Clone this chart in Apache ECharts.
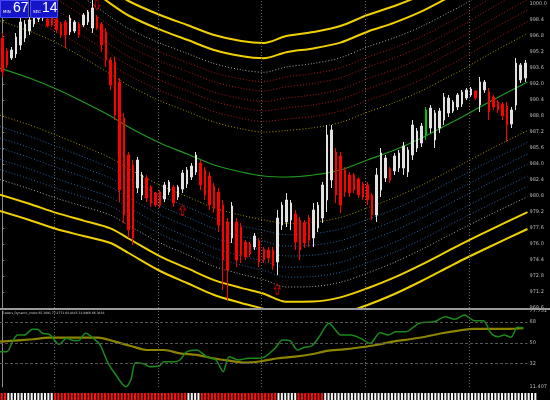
<!DOCTYPE html>
<html><head><meta charset="utf-8">
<script src="https://cdn.jsdelivr.net/npm/echarts@6/dist/echarts.min.js"></script>
<style>html,body{margin:0;padding:0;background:#000;}#c{width:550px;height:400px;}</style>
</head><body><div id="c"></div>
<script>
// ---------- candle data (price) ----------
const opens=[996.6,995.3,994.6,995.0,995.9,996.6,997.3,998.0,998.5,998.6,
998.5,998.9,998.5,998.0,998.2,997.2,997.3,998.0,997.9,998.2,
997.6,998.7,998.0,997.2,994.4,994.2,992.2,988.6,984.9,983.9,
981.6,980.9,982.6,981.7,981.1,981.2,980.5,981.2,981.7,980.7,
981.5,982.0,982.7,983.2,984.1,983.4,982.8,981.8,981.2,979.9,
978.2,976.6,978.2,977.7,976.2,976.0,975.7,976.3,975.5,975.4,
975.4,974.2,977.9,978.2,978.4,979.0,978.4,978.1,978.6,976.6,
977.6,978.6,980.4,982.4,985.2,984.8,983.4,982.9,982.9,982.5,
982.0,981.9,980.9,978.9,981.4,982.6,983.5,983.3,983.6,983.6,
983.2,984.9,985.6,986.1,986.9,987.6,986.4,987.6,988.4,989.1,
989.3,989.7,990.0,990.6,990.9,991.3,989.9,991.4,991.2,990.7,
990.2,990.0,989.8,988.0,989.9,992.4,992.6];
const closes=[993.2,993.9,995.4,996.7,998.2,998.0,998.4,998.9,999.4,999.6,
997.8,997.9,997.4,996.9,996.9,998.6,998.2,996.9,998.9,999.2,
999.6,997.6,995.9,994.4,991.9,988.9,981.4,978.9,977.4,976.6,
984.4,982.9,980.6,980.1,979.9,979.9,981.9,982.2,980.1,981.7,
983.1,983.4,983.8,984.9,981.9,980.9,979.9,979.6,977.9,974.4,
973.4,979.8,974.4,974.9,974.7,975.0,976.8,974.2,974.4,974.6,
973.8,978.6,979.9,980.4,980.1,976.2,975.4,976.1,976.4,979.4,
979.9,981.9,986.9,987.4,980.9,979.9,981.2,981.1,981.4,980.9,
980.7,980.4,978.9,982.9,985.1,984.6,982.4,984.8,985.1,985.8,
985.4,987.9,987.3,987.8,989.4,989.6,989.1,989.3,990.7,990.6,
990.2,990.9,991.2,991.4,991.5,990.6,992.2,992.2,989.2,989.7,
989.4,988.8,987.9,989.4,994.1,993.9,994.1];
const lows=[992.7,993.6,994.4,994.6,995.4,996.2,996.9,997.7,998.2,998.3,
997.7,997.7,997.1,996.6,995.6,996.9,997.1,996.6,997.7,997.9,
997.1,997.4,995.2,993.7,991.4,988.4,980.2,978.1,976.6,975.9,
981.1,980.4,980.2,979.7,979.7,979.6,980.2,980.9,979.7,980.4,
981.1,981.6,982.4,982.9,981.4,980.4,979.4,979.1,977.2,971.4,
970.4,976.1,973.7,974.1,974.4,974.7,975.4,973.7,974.1,974.1,
973.4,972.9,977.4,977.7,977.4,975.4,974.4,975.6,975.7,975.7,
977.2,978.1,979.2,981.6,980.1,979.1,980.7,980.7,981.1,980.6,
980.4,979.9,978.4,978.2,980.7,982.2,982.1,982.9,983.2,982.9,
982.7,984.4,985.2,985.7,986.4,987.1,985.6,987.1,987.9,988.7,
989.1,989.4,989.7,990.4,990.7,990.4,989.2,991.1,988.4,989.4,
989.1,988.4,986.2,987.6,989.4,992.1,992.2];
const highs=[997.1,995.6,995.7,997.1,998.6,998.4,998.7,999.1,999.6,999.9,
998.6,999.2,998.7,998.2,998.4,998.9,998.4,998.2,999.1,999.4,
1000.4,998.9,998.2,997.6,994.7,994.7,992.6,989.1,985.2,984.4,
984.7,983.2,982.9,981.9,981.2,981.4,982.2,982.4,981.9,981.9,
983.4,983.7,984.1,985.2,984.4,983.7,983.2,982.1,981.6,980.4,
978.6,980.2,978.6,978.1,976.4,976.2,977.1,976.6,975.7,975.7,
975.7,979.4,980.2,981.1,980.4,979.4,978.7,978.4,978.9,980.1,
980.2,982.2,987.9,987.9,985.6,985.2,983.7,983.2,983.1,982.7,
982.2,982.2,981.1,983.6,985.6,984.9,983.7,985.1,985.4,986.2,
985.7,988.4,987.6,988.1,989.7,989.9,989.4,989.6,991.1,990.9,
990.4,991.1,991.4,991.6,991.7,991.4,992.7,992.4,991.6,990.9,
990.4,990.2,990.2,989.7,994.6,994.1,994.4];
const greenCandle = 94;
const categories = opens.map((_, i) => String(i + 1));

// ---------- channel (bands) ----------
const bandIdx  = [-0.5,6,12,18,24,28,35,41,47,53,58,63,69,75,81,87,93,99,102,108,116.5];
const bandMid  = [993.6,992.6,991.5,990.2,988.8,987.7,986.1,985.0,983.9,983.2,982.8,982.7,982.9,983.4,984.4,985.4,986.6,988.0,988.7,990.2,992.2];
const bandHalf = [14.3,14.2,14.0,13.4,12.7,12.6,12.8,12.9,13.0,13.1,13.3,14.1,14.3,14.4,14.5,14.4,14.3,14.3,14.3,14.5,14.7];
const bandLevels = [1.0,0.885,0.78,0.71,0.64,0.56,0.49,0.41,0.33];

// ---------- signal arrows ----------
const arrowDownIdx = [21], arrowDownPrice = [999.9];
const arrowUpIdx = [40, 61], arrowUpPrice = [979.4, 971.5];

// ---------- session separators ----------
const sessionBreaks = [11.5, 34.5, 57.5, 80.5, 103.5];

// ---------- Traders Dynamic Index ----------
const tdiGreenIdx=[-0.5,1.0,2.3,3.4,4.9,6.7,7.8,8.9,10.4,11.0,12.6,14.3,15.8,16.9,18.5,20.6,21.7,23.5,25.2,27.4,28.5,29.6,31.5,32.8,34.8,35.9,38.1,39.4,40.9,43.1,45.3,47.4,49.0,50.3,52.4,54.6,56.8,58.3,60.5,62.2,63.8,65.5,67.0,68.6,70.3,72.5,73.6,75.1,77.3,79.5,81.6,83.8,85.6,87.3,89.5,92.5,96.0,98.2,100.4,102.5,104.7,106.7,108.4,110.0,111.3,112.8,114.3,115.6];
const tdiGreenVal=[42.2,42.2,51.0,56.8,56.8,61.8,61.8,58.3,57.4,55.3,48.7,53.9,51.9,51.9,58.3,52.5,48.1,32.1,21.9,11.7,17.5,32.6,31.5,29.1,29.7,33.5,33.5,35.0,42.0,43.7,37.9,35.0,24.8,37.9,35.0,36.5,36.5,37.9,45.2,52.5,51.9,43.7,46.1,47.2,55.3,67.1,62.7,56.8,56.8,53.9,49.6,58.8,56.8,59.7,59.7,67.1,68.5,72.8,70.5,74.3,69.3,69.3,58.3,55.3,56.8,54.8,63.6,62.7];
const tdiBaseIdx=[-0.5,6.7,10.4,14.1,17.6,21.3,25.0,28.5,32.2,35.9,39.4,43.1,46.8,50.3,54.0,57.7,61.2,64.9,68.6,72.0,75.8,79.5,82.9,86.6,90.3,93.8,97.5,101.2,104.7,108.4,112.1,115.6];
const tdiBaseVal=[51.0,53.1,54.5,54.5,54.5,54.5,51.0,47.2,43.7,43.7,40.8,39.4,36.5,34.4,32.6,34.1,36.5,37.9,40.0,42.9,44.3,46.1,48.1,51.0,53.1,55.3,58.3,60.6,62.1,62.1,62.1,62.7];
const tdiLevels=[32,50,68];
const tdiRange=[11.407,77.751];
const tdiTitle='Traders_Dynamic_Index 65.3091 77.2771 64.8445 32.0966 66.3838';

// ---------- bottom strip ----------
const stripRuns=[['R',2],['W',14],['R',40],['W',4],['R',23],['W',6],['R',8],['W',64]];

// ---------- timer box ----------
const boxLabels=['MIN','SEC'];
const boxValues=['67','14'];

// ===== build =====
const upColors  = ['#f0d000','#f0d000','#a8a8a8','#b01818','#b01818','#b01818','#b01818','#b01818','#a89400'];
const lowColors = ['#f0d000','#f0d000','#a8a8a8','#2a64a8','#2a64a8','#2a64a8','#2a64a8','#2a64a8','#a89400'];
const series=[];
[1,-1].forEach(sign=>{
  bandLevels.forEach((f,k)=>{
    const solid=k<2;
    series.push({
      type:'line', xAxisIndex:1, yAxisIndex:0, smooth:0.3, symbol:'none', silent:true,
      data: bandIdx.map((x,j)=>[x, +(bandMid[j]+sign*f*bandHalf[j]).toFixed(2)]),
      lineStyle:{color: sign>0?upColors[k]:lowColors[k], width: solid?2:1, type: solid?'solid':[1,2]},
      z:2
    });
  });
});
series.push({
  type:'line', xAxisIndex:1, yAxisIndex:0, smooth:0.3, symbol:'none', silent:true,
  data: bandIdx.map((x,j)=>[x,bandMid[j]]),
  lineStyle:{color:'#1f9a1f', width:1.2},
  markLine:{silent:true, symbol:'none', label:{show:false},
    lineStyle:{color:'#666666', type:[1,2], width:1},
    data: sessionBreaks.map(v=>({xAxis:v}))},
  z:3
});
series.push({
  type:'candlestick', xAxisIndex:0, yAxisIndex:0, barWidth:2,
  itemStyle:{color:'#e2e2e2', color0:'#ff0000', borderColor:'#e2e2e2', borderColor0:'#ff0000', borderWidth:1},
  data: opens.map((o,i)=>{
    const v=[o,closes[i],lows[i],highs[i]];
    return i===greenCandle?{value:v,itemStyle:{color:'#00c800',color0:'#00c800',borderColor:'#00c800',borderColor0:'#00c800'}}:v;
  }),
  z:5
});
const arrowPath='path://M3,0 L6,4.5 L4.2,4.5 L4.2,10 L1.8,10 L1.8,4.5 L0,4.5 Z';
series.push({
  type:'scatter', xAxisIndex:1, yAxisIndex:0, symbol:arrowPath, symbolSize:[6,10],
  itemStyle:{color:'rgba(0,0,0,0)', borderColor:'#e00000', borderWidth:1},
  data: arrowUpIdx.map((x,i)=>[x,arrowUpPrice[i]]), z:6, silent:true
});
series.push({
  type:'scatter', xAxisIndex:1, yAxisIndex:0, symbol:arrowPath, symbolSize:[6,10], symbolRotate:180,
  itemStyle:{color:'rgba(0,0,0,0)', borderColor:'#e00000', borderWidth:1},
  data: arrowDownIdx.map((x,i)=>[x,arrowDownPrice[i]]), z:6, silent:true
});
// TDI
series.push({
  type:'line', xAxisIndex:2, yAxisIndex:1, smooth:0.3, symbol:'none', silent:true,
  data: tdiBaseIdx.map((x,i)=>[x,tdiBaseVal[i]]),
  lineStyle:{color:'#8c8400', width:2.2},
  markLine:{silent:true, symbol:'none', label:{show:false},
    lineStyle:{color:'#666666', type:[1,2], width:1},
    data: sessionBreaks.map(v=>({xAxis:v}))},
  z:3
});
series.push({
  type:'line', xAxisIndex:2, yAxisIndex:1, smooth:0.3, symbol:'none', silent:true,
  data: tdiGreenIdx.map((x,i)=>[x,tdiGreenVal[i]]),
  lineStyle:{color:'#1a8a1a', width:1.5},
  markLine:{silent:true, symbol:'none', label:{show:false},
    lineStyle:{color:'#555555', type:[3,2], width:1},
    data: tdiLevels.map(v=>({yAxis:v}))},
  z:4
});
// strip
const stripColors=[];
stripRuns.forEach(([c,n])=>{for(let k=0;k<n;k++)stripColors.push(c);});
series.push({
  type:'bar', xAxisIndex:3, yAxisIndex:2, barWidth:'62%', silent:true,
  data: stripColors.map(c=>({value:1,itemStyle:{color:c==='R'?'#ff1010':'#f4f4f4'}}))
});

const chart=echarts.init(document.getElementById('c'));
const lblFont={color:'#b8b8b8', fontSize:5, fontFamily:'DejaVu Sans'};
chart.setOption({
  backgroundColor:'#000',
  animation:false,
  grid:[
    {left:0,right:13,top:0,height:308},
    {left:0,right:13,top:311,height:76},
    {left:0,right:13,top:393,height:7}
  ],
  xAxis:[
    {type:'category',gridIndex:0,data:categories,boundaryGap:true,show:false},
    {type:'value',gridIndex:0,min:-0.5,max:opens.length-0.5,show:false},
    {type:'value',gridIndex:1,min:-0.5,max:opens.length-0.5,show:false},
    {type:'category',gridIndex:2,data:stripColors.map((_,i)=>i),show:false}
  ],
  yAxis:[
    {type:'value',gridIndex:0,position:'right',min:969.6,max:1000.4,interval:1.6,
     axisLine:{show:true,lineStyle:{color:'#8a8a8a'}},axisTick:{show:true,length:2,lineStyle:{color:'#8a8a8a'}},
     splitLine:{show:false},
     axisLabel:Object.assign({margin:2,formatter:v=>v.toFixed(1)},lblFont)},
    {type:'value',gridIndex:1,position:'right',min:tdiRange[0],max:tdiRange[1],
     axisLine:{show:true,lineStyle:{color:'#8a8a8a'}},axisTick:{show:false},splitLine:{show:false},
     axisLabel:Object.assign({margin:2,customValues:[tdiRange[0]].concat(tdiLevels,[tdiRange[1]]),
       formatter:v=>tdiLevels.indexOf(v)>=0?String(v):v.toFixed(3)},lblFont)},
    {type:'value',gridIndex:2,min:0,max:1,show:false}
  ],
  series:series,
  graphic:[
    {type:'rect',shape:{x:0,y:308,width:550,height:2},style:{fill:'#9a9a9a'},z:100},
    {type:'rect',shape:{x:0.5,y:0.5,width:28,height:17},style:{fill:'#1414c8',stroke:'#4a4aff',lineWidth:1},z:100},
    {type:'rect',shape:{x:30.5,y:0.5,width:27,height:17},style:{fill:'#1414c8',stroke:'#4a4aff',lineWidth:1},z:100},
    {type:'text',x:3,y:10,style:{text:boxLabels[0],fill:'#ffffff',fontSize:4,fontFamily:'DejaVu Sans'},z:101},
    {type:'text',x:13,y:1,style:{text:boxValues[0],fill:'#ffffff',fontSize:14,fontFamily:'Liberation Sans Narrow, Liberation Sans'},z:101},
    {type:'text',x:33,y:10,style:{text:boxLabels[1],fill:'#ffffff',fontSize:4,fontFamily:'DejaVu Sans'},z:101},
    {type:'text',x:42,y:1,style:{text:boxValues[1],fill:'#ffffff',fontSize:14,fontFamily:'Liberation Sans Narrow, Liberation Sans'},z:101},
    {type:'text',x:2,y:312,style:{text:tdiTitle,fill:'#d0d0d0',fontSize:3,fontFamily:'DejaVu Sans'},z:101}
  ]
});
</script></body></html>
